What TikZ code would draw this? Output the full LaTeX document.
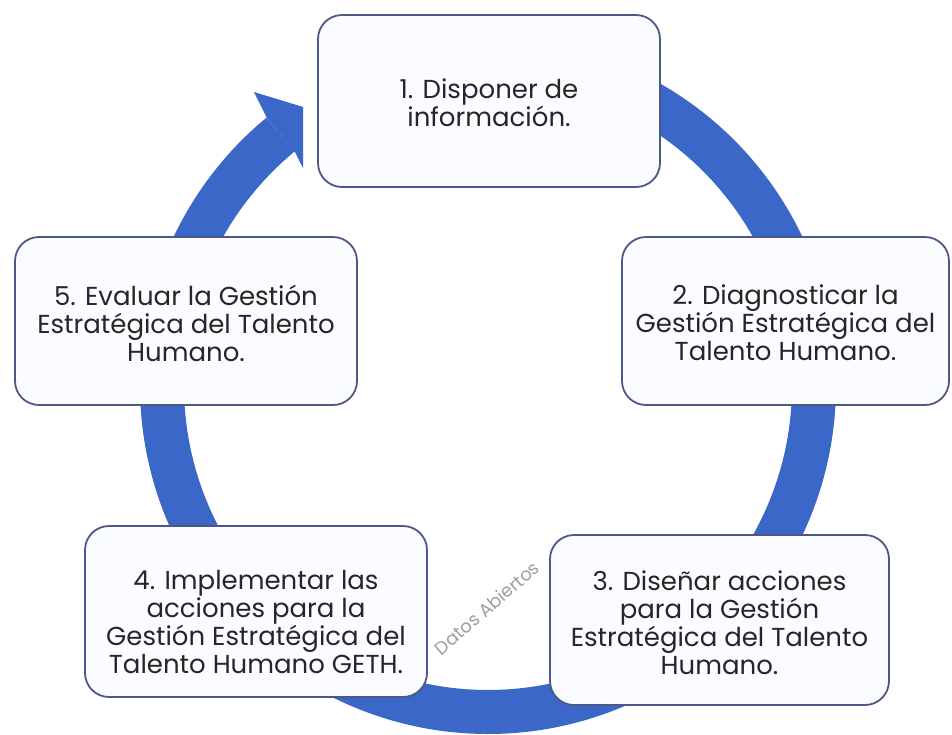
\documentclass[tikz,border=0pt]{standalone}
\usepackage{fontspec}
\setmainfont{Poppins}
\definecolor{ringblue}{HTML}{3A67C8}
\definecolor{edgecol}{HTML}{4E5884}
\definecolor{boxfill}{HTML}{FBFCFF}
\definecolor{txtcol}{HTML}{262626}
\begin{document}
\begin{tikzpicture}[x=1pt,y=-1pt,
  stepbox/.style={draw=edgecol, line width=1.8pt, fill=boxfill, rounded corners=24pt, inner sep=0pt},
  steptext/.style={text=txtcol, align=center, font=\fontsize{26}{28}\selectfont, inner sep=0pt}]
\useasboundingbox (0,0) rectangle (952,734);
\fill[white] (0,0) rectangle (952,734);
% ring
\draw[ringblue, line width=44pt] plot[domain=-230.5:80, samples=240] ({488+326*cos(\x)},{386-326*sin(\x)});
% arrow head
\coordinate (ho) at ({488+348*cos(129.5)},{386-348*sin(129.5)});
\coordinate (hi) at ({488+304*cos(129.5)},{386-304*sin(129.5)});
\coordinate (hb1) at (254,92);
\coordinate (hc1) at (303,107);
\coordinate (hc2) at (303,168);
\fill[ringblue] (ho) -- (hb1) -- (hc1) -- (hc2) -- (hi) -- cycle;
% boxes
\node[stepbox, minimum width=342pt, minimum height=172pt] (b1) at (489,101) {};
\node[stepbox, minimum width=327pt, minimum height=168pt] (b2) at (785.5,321) {};
\node[stepbox, minimum width=339pt, minimum height=170pt] (b3) at (719.5,620) {};
\node[stepbox, minimum width=342pt, minimum height=171pt] (b4) at (256,611.5) {};
\node[stepbox, minimum width=342pt, minimum height=168pt] (b5) at (186,321) {};
% texts
\node[steptext] (t1) at (489,103) {1. Disponer de\\información.};
\node[steptext] (t2) at (785.5,323) {2. Diagnosticar la\\Gestión Estratégica del\\Talento Humano.};
\node[steptext] (t3) at (719.5,623) {3. Diseñar acciones\\para la Gestión\\Estratégica del Talento\\Humano.};
\node[steptext] (t4) at (256,622) {4. Implementar las\\acciones para la\\Gestión Estratégica del\\Talento Humano GETH.};
\node[steptext] (t5) at (186,323) {5. Evaluar la Gestión\\Estratégica del Talento\\Humano.};
% watermark
\node[text=gray!75, rotate=41, font=\fontsize{18}{20}\selectfont, inner sep=0pt] (wm) at (487,608) {Datos Abiertos};
\end{tikzpicture}
\end{document}
